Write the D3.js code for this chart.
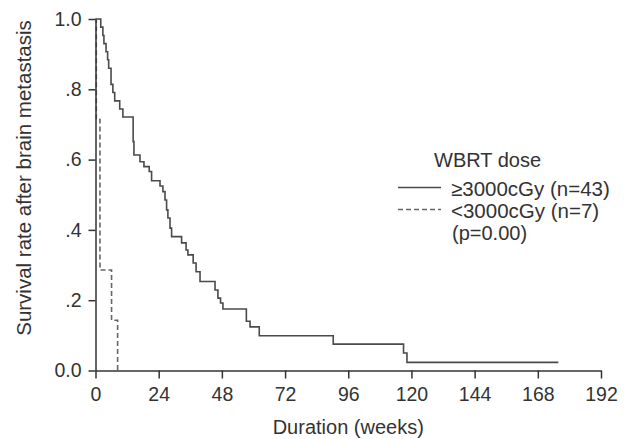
<!DOCTYPE html>
<meta charset="utf-8">
<style>
body {
  margin: 0;
  background: #fff;
}
svg {
  display: block;
  font-family: "Liberation Sans", Arial, sans-serif;
}
.axis path, .axis line {
  stroke: #333;
  stroke-width: 1.5px;
}
.axis text {
  font-size: 19.5px;
  fill: #333;
}
.km {
  fill: none;
  stroke: #4a4a4a;
  stroke-width: 1.6px;
}
.km--low {
  stroke: #666;
  stroke-dasharray: 5, 3;
}
</style>
<body>
<svg width="632" height="439"></svg>
<script src="https://cdn.jsdelivr.net/npm/d3@7"></script>
<script>

// >=3000cGy (n=43): event times (weeks) and survival after each step
var highWeeks = [2.0, 2.8, 3.2, 4.0, 4.6, 5.0, 5.9, 6.6, 7.3, 9.2,
                 10.4, 14.3, 14.6, 16.9, 18.4, 20.4, 21.3, 24.5, 25.6, 26.4,
                 27.0, 27.5, 28.3, 28.9, 32.7, 34.4, 35.1, 37.1, 38.2, 39.7,
                 45.4, 46.5, 47.5, 48.4, 57.3, 58.7, 62.2, 90.3, 117.0, 118.3];
var highSurv = [0.977, 0.953, 0.930, 0.907, 0.884, 0.860, 0.814, 0.791, 0.767, 0.744,
                0.721, 0.651, 0.613, 0.594, 0.580, 0.566, 0.540, 0.525, 0.509, 0.485,
                0.457, 0.434, 0.405, 0.381, 0.363, 0.343, 0.329, 0.306, 0.281, 0.253,
                0.229, 0.206, 0.192, 0.175, 0.140, 0.124, 0.099, 0.075, 0.050, 0.023];
var highEnd = 175.8;

// <3000cGy (n=7)
var lowWeeks = [0.3, 1.7, 6.1, 8.4];
var lowSurv = [0.714, 0.286, 0.143, 0.0];

var xTicks = [0, 24, 48, 72, 96, 120, 144, 168, 192];
var yTicks = [0, 0.2, 0.4, 0.6, 0.8, 1.0];
var yTickLabels = ["0.0", ".2", ".4", ".6", ".8", "1.0"];

var legendTitle = "WBRT dose";
var legendLabels = ["\u22653000cGy (n=43)", "<3000cGy (n=7)"];
var pValueLabel = "(p=0.00)";

var svg = d3.select("svg"),
    margin = {top: 19, right: 31, bottom: 68.5, left: 95.5},
    width = svg.attr("width") - margin.left - margin.right,
    height = svg.attr("height") - margin.top - margin.bottom,
    g = svg.append("g").attr("transform", "translate(" + margin.left + "," + margin.top + ")");

var x = d3.scaleLinear().domain([0, 192]).range([0, width]),
    y = d3.scaleLinear().domain([0, 1]).range([height, 0]);

var line = d3.line()
    .curve(d3.curveStepAfter)
    .x(function(d) { return x(d[0]); })
    .y(function(d) { return y(d[1]); });

function steps(weeks, surv, end) {
  var pts = [[0, 1]];
  weeks.forEach(function(w, i) { pts.push([w, surv[i]]); });
  if (end != null) pts.push([end, surv[surv.length - 1]]);
  return pts;
}

g.append("path")
    .attr("class", "km km--high")
    .attr("d", line(steps(highWeeks, highSurv, highEnd)));

g.append("path")
    .attr("class", "km km--low")
    .attr("d", line(steps(lowWeeks, lowSurv, null)));

g.append("g")
    .attr("class", "axis axis--x")
    .attr("transform", "translate(0," + height + ")")
    .call(d3.axisBottom(x).tickValues(xTicks).tickSize(8).tickSizeOuter(0).tickPadding(9));

g.append("g")
    .attr("class", "axis axis--y")
    .call(d3.axisLeft(y).tickValues(yTicks).tickSize(7).tickSizeOuter(0).tickPadding(7)
      .tickFormat(function(d, i) { return yTickLabels[i]; }));

g.selectAll(".axis text").style("font-family", null);

g.append("text")
    .attr("x", width / 2)
    .attr("y", height + 63)
    .attr("text-anchor", "middle")
    .style("font-size", "20px")
    .attr("fill", "#333")
    .text("Duration (weeks)");

svg.append("text")
    .attr("transform", "translate(31,178) rotate(-90)")
    .attr("text-anchor", "middle")
    .style("font-size", "20.5px")
    .attr("fill", "#333")
    .text("Survival rate after brain metastasis");

// legend
var legend = svg.append("g").attr("class", "legend");

legend.append("text")
    .attr("x", 434)
    .attr("y", 167)
    .style("font-size", "20px")
    .attr("fill", "#333")
    .text(legendTitle);

var rows = legend.selectAll(".row")
    .data(legendLabels)
    .enter().append("g")
      .attr("class", "row")
      .attr("transform", function(d, i) { return "translate(0," + (195.5 + i * 22) + ")"; });

rows.append("line")
    .attr("class", function(d, i) { return i ? "km km--low" : "km km--high"; })
    .attr("x1", 398)
    .attr("x2", 441)
    .attr("y1", -8)
    .attr("y2", -8);

rows.append("text")
    .attr("x", 451)
    .style("font-size", "20.5px")
    .attr("fill", "#333")
    .text(function(d) { return d; });

legend.append("text")
    .attr("x", 452)
    .attr("y", 239.5)
    .style("font-size", "20px")
    .attr("fill", "#333")
    .text(pValueLabel);

</script>
</body>
